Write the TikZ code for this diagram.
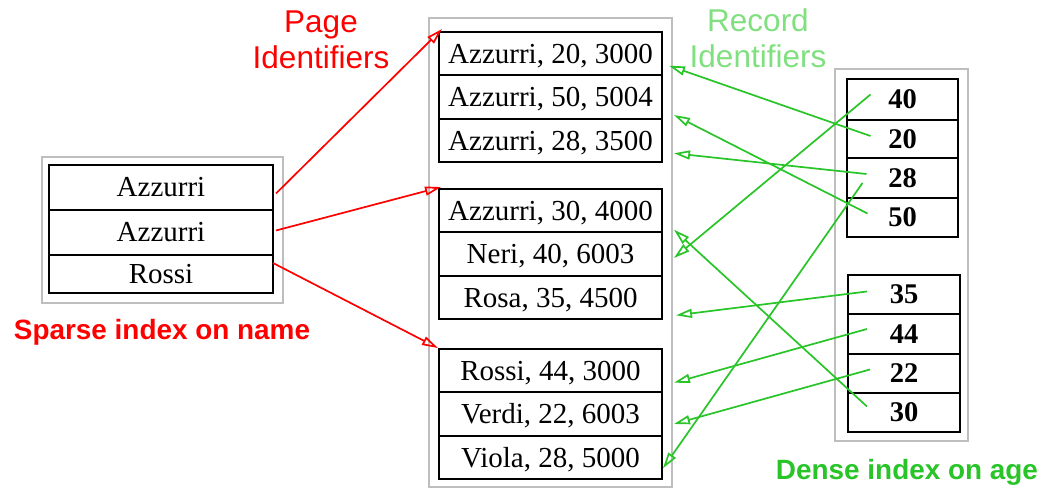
\documentclass[tikz,border=0pt]{standalone}
\usepackage{fontspec}
\setmainfont{Liberation Serif}
\newfontfamily\arialfont{Liberation Sans}
\usetikzlibrary{arrows.meta,calc}
\definecolor{lnkgreen}{RGB}{40,196,40}
\definecolor{lightgreen}{RGB}{128,224,128}
\definecolor{boxgray}{RGB}{190,190,190}
\begin{document}
\begin{tikzpicture}[x=1pt,y=-1pt,
  cell/.style={draw, line width=2pt, inner sep=0pt, font=\fontsize{29}{31}\selectfont},
  rec/.style={cell, minimum width=223pt, minimum height=43.3pt, text height=20pt, text depth=0pt},
  spr/.style={cell, minimum width=224pt},
  den/.style={cell, minimum width=111pt, font=\fontsize{28.5}{30}\selectfont\bfseries},
  graybox/.style={draw=boxgray, line width=1.8pt},
  redlink/.style={red, line width=1.7pt, -{Triangle[open,length=16pt,width=9pt]}},
  greenlink/.style={lnkgreen, line width=1.7pt, -{Triangle[open,length=16pt,width=9pt]}},
  lbl/.style={align=center, inner sep=0pt, font=\arialfont\fontsize{31.5}{36}\selectfont},
  captext/.style={inner sep=0pt, font=\arialfont\bfseries\fontsize{27.9}{30}\selectfont}]
\useasboundingbox (0,0) rectangle (1042,502);
% containers
\draw[graybox] (42,157) rectangle (283,303);
\draw[graybox] (429,18) rectangle (672,487);
\draw[graybox] (835,69) rectangle (968,441);
% sparse index
\node[spr, minimum height=45pt] (s1) at (161,187.5) {Azzurri};
\node[spr, minimum height=45pt] (s2) at (161,232.5) {Azzurri};
\node[spr, minimum height=38pt] (s3) at (161,274) {Rossi};
% records
\node[rec] (r1) at (550.5,53.7) {Azzurri, 20, 3000};
\node[rec] (r2) at (550.5,97) {Azzurri, 50, 5004};
\node[rec] (r3) at (550.5,140.3) {Azzurri, 28, 3500};
\node[rec] (r4) at (550.5,210.7) {Azzurri, 30, 4000};
\node[rec] (r5) at (550.5,254) {Neri, 40, 6003};
\node[rec] (r6) at (550.5,297.3) {Rosa, 35, 4500};
\node[rec] (r7) at (550.5,370.7) {Rossi, 44, 3000};
\node[rec] (r8) at (550.5,414) {Verdi, 22, 6003};
\node[rec] (r9) at (550.5,457.3) {Viola, 28, 5000};
% dense index
\node[den, minimum height=41pt] (d40) at (902.5,99.5) {40};
\node[den, minimum height=38pt] (d20) at (902.5,139) {20};
\node[den, minimum height=40pt] (d28) at (902.5,178) {28};
\node[den, minimum height=39pt] (d50) at (902.5,217.5) {50};
\node[den, minimum height=39pt, minimum width=112pt] (d35) at (904,294.5) {35};
\node[den, minimum height=40pt, minimum width=112pt] (d44) at (904,334) {44};
\node[den, minimum height=39pt, minimum width=112pt] (d22) at (904,373.5) {22};
\node[den, minimum height=39pt, minimum width=112pt] (d30) at (904,412.5) {30};
% labels
\node[lbl, red] (pl) at (321,40) {Page\\Identifiers};
\node[lbl, lightgreen] (rl) at (758,38) {Record\\Identifiers};
\node[captext, red] (sl) at (162,332) {Sparse index on name};
\node[captext, lnkgreen] (dl) at (907,472) {Dense index on age};
% page identifier links
\draw[redlink] ($(s1.east)+(2,6)$) -- ($(r1.north west)+(4,-2)$);
\draw[redlink] ($(s2.east)+(2,-2)$) -- ($(r4.north west)+(3,-1)$);
\draw[redlink] ($(s3.north east)+(-1,9)$) -- (r7.north west);
% record identifier links
\draw[greenlink] ($(d20)+(-32,-3)$) -- ($(r1.east)+(6,12)$);
\draw[greenlink] ($(d50)+(-35,-4)$) -- ($(r2.east)+(11,18)$);
\draw[greenlink] ($(d28)+(-36,-4)$) -- ($(r3.east)+(11,13)$);
\draw[greenlink] ($(d30)+(-37,-6)$) -- ($(r4.east)+(11,19)$);
\draw[greenlink] ($(d40)+(-32,-5)$) -- ($(r5.east)+(11,4)$);
\draw[greenlink] ($(d35)+(-37,-3)$) -- ($(r6.east)+(13,18)$);
\draw[greenlink] ($(d44)+(-37,-5)$) -- ($(r7.east)+(11,12)$);
\draw[greenlink] ($(d22)+(-34,-4)$) -- ($(r8.east)+(11,10)$);
\draw[greenlink] ($(d28)+(-40,5)$) -- ($(r9.east)+(0,11)$);
\end{tikzpicture}
\end{document}
